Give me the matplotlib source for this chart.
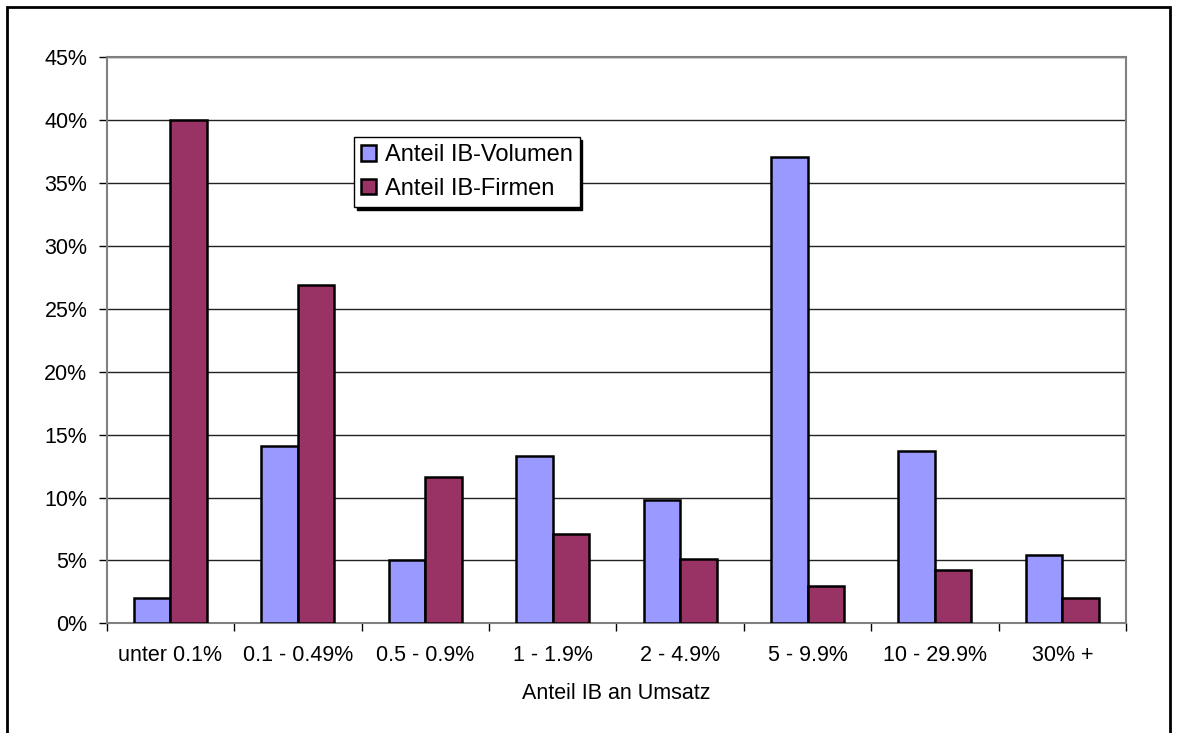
import numpy as np
import matplotlib
matplotlib.use('Agg')
import matplotlib.pyplot as plt
from matplotlib.patches import Rectangle
from matplotlib.ticker import PercentFormatter

plt.rcParams['font.family'] = ['Liberation Sans', 'DejaVu Sans']

# Data (percent)
categories = ['unter 0.1%', '0.1 - 0.49%', '0.5 - 0.9%', '1 - 1.9%',
              '2 - 4.9%', '5 - 9.9%', '10 - 29.9%', '30% +']
ib_volumen = [2.0, 14.1, 5.0, 13.3, 9.8, 37.1, 13.7, 5.4]
ib_firmen = [40.0, 26.9, 11.6, 7.1, 5.1, 3.0, 4.2, 2.0]

blue = '#9999FF'
red = '#993366'

fig = plt.figure(figsize=(11.77, 7.33), dpi=100)
ax = fig.add_axes([0.0907, 0.1497, 0.866, 0.772])

x = np.arange(len(categories))
w = 0.286
ax.bar(x - w / 2, ib_volumen, w, color=blue, edgecolor='black', linewidth=1.8,
       label='Anteil IB-Volumen', zorder=3)
ax.bar(x + w / 2, ib_firmen, w, color=red, edgecolor='black', linewidth=1.8,
       label='Anteil IB-Firmen', zorder=3)

ax.set_xlim(-0.5, len(categories) - 0.5)
ax.set_ylim(0, 45)
ax.set_yticks(np.arange(0, 46, 5))
ax.yaxis.set_major_formatter(PercentFormatter(decimals=0))
ax.set_xticks(np.arange(-0.5, len(categories), 1))
ax.set_xticklabels([])
ax.set_xticks(x, minor=True)
ax.set_xticklabels(categories, minor=True)
ax.tick_params(axis='x', which='minor', length=0, pad=16, labelsize=15.5)
ax.tick_params(axis='x', which='major', length=6, width=1, color='black')
ax.tick_params(axis='y', length=6, width=1, pad=8, labelsize=15.5, color='black')

ax.grid(axis='y', color='#222222', linewidth=1, zorder=0)
for s in ax.spines.values():
    s.set_color('#808080')
    s.set_linewidth(1.5)

ax.set_xlabel('Anteil IB an Umsatz', fontsize=15.5, labelpad=12)

leg = ax.legend(loc='upper left', bbox_to_anchor=(354 / 1177, 1 - 137 / 733),
                bbox_transform=fig.transFigure, fontsize=17, frameon=True,
                fancybox=False, shadow={'color': 'black', 'alpha': 1},
                handlelength=0.65, handleheight=0.65, handletextpad=0.35,
                borderpad=0.3, labelspacing=0.5, borderaxespad=0)
leg.get_frame().set_edgecolor('black')
leg.get_frame().set_linewidth(1)
leg.set_zorder(5)

# outer chart border
fig.patches.append(Rectangle((7 / 1177, -0.05), (1170 - 7) / 1177, 1.05 - 7 / 733,
                             transform=fig.transFigure, fill=False,
                             edgecolor='black', linewidth=2))

fig.savefig('out.png', dpi=100)
